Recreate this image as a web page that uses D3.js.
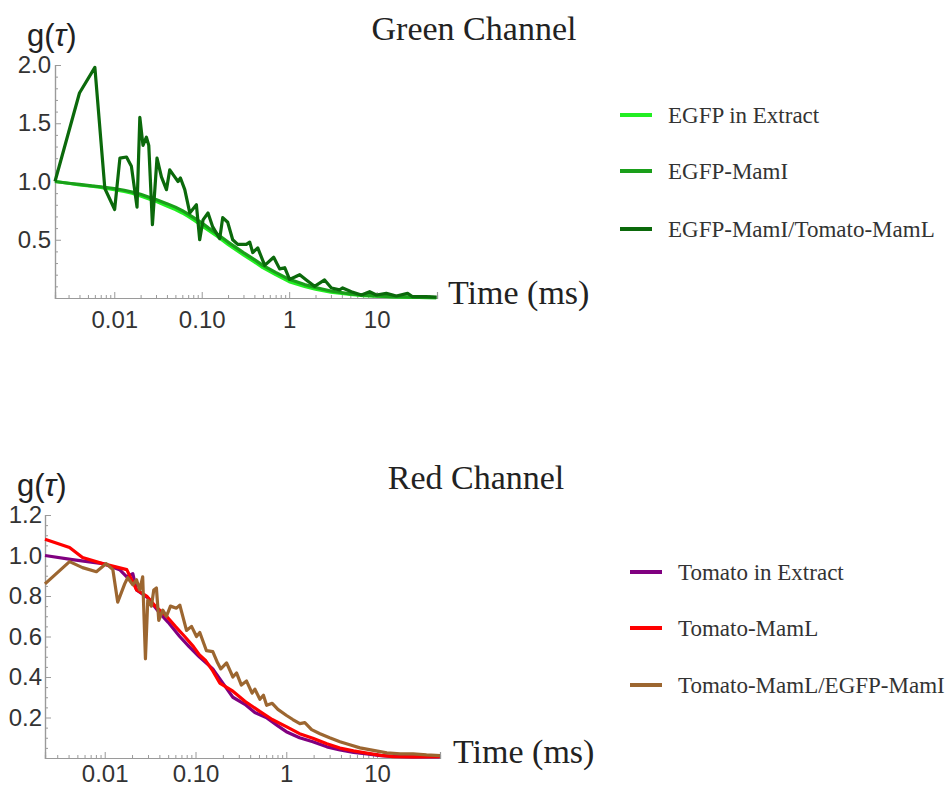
<!DOCTYPE html>
<html>
<head>
<meta charset="utf-8">
<script src="https://cdn.jsdelivr.net/npm/d3@7"></script>
<style>
  body { margin: 0; background: #fff; }
</style>
</head>
<body>
<div id="chart"></div>
<script>
// ---- data: [lag time (ms), g(tau)] ----
var egfpExtract = [[0.0021,1.00],[0.003,0.985],[0.004,0.97],[0.0055,0.96],[0.007,0.95],[0.01,0.93],[0.013,0.915],[0.016,0.90],[0.02,0.875],[0.025,0.85],[0.03,0.83],[0.04,0.79],[0.05,0.76],[0.06,0.73],[0.07,0.70],[0.085,0.66],[0.1,0.62],[0.12,0.58],[0.15,0.53],[0.2,0.46],[0.25,0.41],[0.3,0.37],[0.4,0.31],[0.5,0.26],[0.7,0.20],[1.0,0.14],[1.5,0.10],[2,0.075],[3,0.05],[5,0.03],[7,0.02],[10,0.015],[15,0.01],[20,0.007],[30,0.005],[48,0.003]];

var egfpMamI = [[0.0021,1.00],[0.003,0.985],[0.004,0.975],[0.0055,0.962],[0.007,0.955],[0.01,0.94],[0.013,0.925],[0.016,0.91],[0.02,0.89],[0.025,0.865],[0.03,0.845],[0.04,0.81],[0.05,0.78],[0.06,0.75],[0.07,0.72],[0.085,0.68],[0.1,0.645],[0.12,0.60],[0.15,0.55],[0.2,0.48],[0.25,0.43],[0.3,0.39],[0.4,0.33],[0.5,0.28],[0.7,0.22],[1.0,0.16],[1.5,0.115],[2,0.09],[3,0.06],[5,0.035],[7,0.025],[10,0.018],[15,0.012],[20,0.009],[30,0.006],[48,0.004]];

var egfpMamIMamL = [[0.0021,1.00],[0.004,1.76],[0.006,1.98],[0.0078,0.94],[0.0101,0.76],[0.0116,1.20],[0.0138,1.21],[0.0157,1.13],[0.0182,0.78],[0.0196,1.55],[0.0213,1.31],[0.0233,1.38],[0.0248,1.31],[0.0273,0.63],[0.0308,1.20],[0.0346,1.04],[0.0395,0.93],[0.0431,1.10],[0.0491,1.04],[0.0536,1.00],[0.0571,1.03],[0.064,0.93],[0.073,0.73],[0.0869,0.80],[0.0948,0.50],[0.1035,0.67],[0.118,0.73],[0.1336,0.61],[0.1607,0.51],[0.1738,0.69],[0.198,0.65],[0.226,0.50],[0.258,0.46],[0.324,0.46],[0.354,0.48],[0.383,0.39],[0.437,0.43],[0.525,0.28],[0.665,0.35],[0.778,0.25],[0.889,0.26],[1.01,0.16],[1.16,0.18],[1.32,0.20],[1.57,0.155],[1.95,0.10],[2.54,0.155],[3.04,0.086],[3.77,0.07],[4.09,0.086],[5.14,0.054],[6.69,0.026],[8.31,0.054],[9.93,0.026],[12.9,0.04],[16.8,0.017],[22.6,0.04],[25.8,0.011],[37,0.011],[48.5,0.008]];

var tomatoExtract = [[0.0022,1.00],[0.0044,0.98],[0.0095,0.96],[0.0146,0.93],[0.0175,0.895],[0.0204,0.91],[0.0224,0.83],[0.03,0.79],[0.0404,0.715],[0.05,0.67],[0.067,0.60],[0.085,0.55],[0.11,0.50],[0.155,0.44],[0.2,0.37],[0.258,0.30],[0.35,0.265],[0.45,0.225],[0.6,0.20],[0.8,0.16],[1.0,0.13],[1.4,0.10],[1.96,0.08],[2.8,0.055],[3.9,0.04],[5.5,0.028],[7.7,0.02],[11,0.012],[15,0.008],[25,0.006],[49,0.005]];

var tomatoMamL = [[0.0022,1.08],[0.0041,1.04],[0.0057,0.99],[0.0095,0.96],[0.0175,0.93],[0.0224,0.83],[0.029,0.80],[0.036,0.75],[0.048,0.70],[0.06,0.65],[0.076,0.60],[0.095,0.55],[0.11,0.51],[0.13,0.48],[0.155,0.43],[0.185,0.37],[0.258,0.33],[0.35,0.28],[0.51,0.23],[0.7,0.19],[1.0,0.155],[1.4,0.12],[1.96,0.098],[2.8,0.07],[3.9,0.049],[5.5,0.035],[7.7,0.024],[11,0.013],[15,0.007],[25,0.006],[49,0.007]];

var tomatoMamLMamI = [[0.0022,0.86],[0.0041,0.97],[0.0057,0.94],[0.0081,0.92],[0.0104,0.96],[0.0123,0.93],[0.0139,0.77],[0.0166,0.86],[0.0179,0.89],[0.0204,0.855],[0.0224,0.88],[0.0243,0.83],[0.0262,0.895],[0.0281,0.49],[0.0298,0.78],[0.0327,0.75],[0.0347,0.83],[0.0371,0.84],[0.0394,0.68],[0.0436,0.73],[0.0479,0.70],[0.053,0.75],[0.0617,0.74],[0.0672,0.755],[0.0796,0.63],[0.0904,0.65],[0.1026,0.60],[0.1115,0.62],[0.132,0.53],[0.155,0.525],[0.175,0.47],[0.19,0.44],[0.22,0.47],[0.258,0.40],[0.283,0.42],[0.32,0.36],[0.365,0.38],[0.42,0.32],[0.451,0.34],[0.512,0.29],[0.56,0.31],[0.607,0.26],[0.7,0.27],[0.808,0.24],[1.007,0.21],[1.18,0.19],[1.41,0.17],[1.6,0.175],[1.9,0.14],[2.35,0.12],[3.0,0.10],[3.9,0.08],[5.0,0.065],[6.48,0.05],[8.5,0.04],[12.8,0.025],[18,0.02],[24.9,0.02],[35,0.015],[49.3,0.012]];

var greenNames = ["EGFP in Extract", "EGFP-MamI", "EGFP-MamI/Tomato-MamL"];
var greenColors = ["#22ee22", "#1a9f1a", "#0b690b"];
var redNames = ["Tomato in Extract", "Tomato-MamL", "Tomato-MamL/EGFP-MamI"];
var redColors = ["#800080", "#ff0000", "#9c6630"];

var xTickValues = [0.01, 0.1, 1, 10];
var xTickLabels = ["0.01", "0.10", "1", "10"];
var greenYTicks = [0.5, 1.0, 1.5, 2.0];
var redYTicks = [0.2, 0.4, 0.6, 0.8, 1.0, 1.2];

var svg = d3.select("#chart").append("svg")
    .attr("width", 949)
    .attr("height", 791);

// one panel: axes, curves, title and legend
function drawPanel(p) {
    var x = d3.scaleLog().domain(p.xDomain).range(p.xRange);
    var y = d3.scaleLinear().domain(p.yDomain).range(p.yRange);
    var g = svg.append("g");

    // minor log ticks (2..9 of every decade)
    var minors = [];
    [0.001, 0.01, 0.1, 1, 10].forEach(function(d) {
        for (var k = 2; k <= 9; k++) {
            var v = d * k;
            if (v > p.xDomain[0] && v < p.xDomain[1]) minors.push(v);
        }
    });
    g.append("g")
        .attr("transform", "translate(0," + p.yRange[0] + ")")
        .call(d3.axisBottom(x).tickValues(minors).tickSize(-3).tickFormat(""))
        .call(styleAxis);
    g.append("g")
        .attr("transform", "translate(0," + p.yRange[0] + ")")
        .call(d3.axisBottom(x).tickValues(xTickValues).tickSize(-6).tickPadding(p.xPad)
            .tickFormat(function(d, i) { return xTickLabels[i]; }))
        .call(styleAxis);

    // y axis with minor ticks
    var yMinor = d3.range(p.yStep, p.yDomain[1] + 1e-9, p.yStep)
        .filter(function(v) { return p.yTicks.every(function(t) { return Math.abs(t - v) > 1e-6; }); });
    g.append("g")
        .attr("transform", "translate(" + p.xRange[0] + ",0)")
        .call(d3.axisLeft(y).tickValues(yMinor).tickSize(-3).tickFormat(""))
        .call(styleAxis);
    g.append("g")
        .attr("transform", "translate(" + p.xRange[0] + ",0)")
        .call(d3.axisLeft(y).tickValues(p.yTicks).tickSize(-6).tickPadding(p.yPad)
            .tickFormat(d3.format(".1f")))
        .call(styleAxis);

    // curves
    var line = d3.line()
        .x(function(d) { return x(d[0]); })
        .y(function(d) { return y(d[1]); });
    p.series.forEach(function(s, i) {
        g.append("path")
            .datum(s)
            .attr("d", line)
            .attr("fill", "none")
            .attr("stroke", p.colors[i])
            .attr("stroke-width", 3.2)
            .attr("stroke-linejoin", "round");
    });

    // labels
    var gl = g.append("text")
        .attr("x", p.gLabel[0]).attr("y", p.gLabel[1])
        .style("font-family", "'Liberation Sans', Arial, sans-serif")
        .style("font-size", "31px")
        .attr("fill", "#222");
    gl.append("tspan").text("g(");
    gl.append("tspan").style("font-style", "italic").text("\u03C4");
    gl.append("tspan").text(")");

    g.append("text")
        .attr("x", p.title[0]).attr("y", p.title[1])
        .attr("text-anchor", "middle")
        .style("font-family", "'Liberation Serif', 'Times New Roman', serif")
        .style("font-size", "34px")
        .attr("fill", "#222")
        .text(p.titleText);

    g.append("text")
        .attr("x", p.xLabel[0]).attr("y", p.xLabel[1])
        .style("font-family", "'Liberation Serif', 'Times New Roman', serif")
        .style("font-size", "34px")
        .attr("fill", "#222")
        .text("Time (ms)");

    // legend
    p.names.forEach(function(n, i) {
        var ly = p.legendY[i];
        g.append("line")
            .attr("x1", p.legendX).attr("x2", p.legendX + 32)
            .attr("y1", ly).attr("y2", ly)
            .attr("stroke", p.colors[i])
            .attr("stroke-width", 4);
        g.append("text")
            .attr("x", p.legendX + 48).attr("y", ly + 8)
            .style("font-family", "'Liberation Serif', 'Times New Roman', serif")
            .style("font-size", "23px")
            .attr("fill", "#333")
            .text(n);
    });
}

function styleAxis(sel) {
    sel.select(".domain").attr("stroke", "#9a9a9a").attr("stroke-width", 1.2);
    sel.selectAll(".tick line").attr("stroke", "#9a9a9a");
    sel.selectAll(".tick text")
        .style("font-family", "'Liberation Sans', Arial, sans-serif")
        .style("font-size", "24px")
        .attr("fill", "#333");
}

drawPanel({
    xDomain: [0.0021, 49], xRange: [55, 437],
    yDomain: [0, 2.0], yRange: [298, 65],
    yTicks: greenYTicks, yStep: 0.1, yPad: 4, xPad: 13,
    series: [egfpExtract, egfpMamI, egfpMamIMamL],
    colors: greenColors, names: greenNames,
    gLabel: [27, 46], title: [474, 40], titleText: "Green Channel",
    xLabel: [448, 304],
    legendX: 620, legendY: [115, 171, 229]
});

drawPanel({
    xDomain: [0.0022, 49.3], xRange: [45, 440],
    yDomain: [0, 1.2], yRange: [758, 515],
    yTicks: redYTicks, yStep: 0.05, yPad: 3, xPad: 7,
    series: [tomatoExtract, tomatoMamL, tomatoMamLMamI],
    colors: redColors, names: redNames,
    gLabel: [17, 496], title: [476, 489], titleText: "Red Channel",
    xLabel: [453, 763],
    legendX: 630, legendY: [572, 628, 685]
});
</script>
</body>
</html>
